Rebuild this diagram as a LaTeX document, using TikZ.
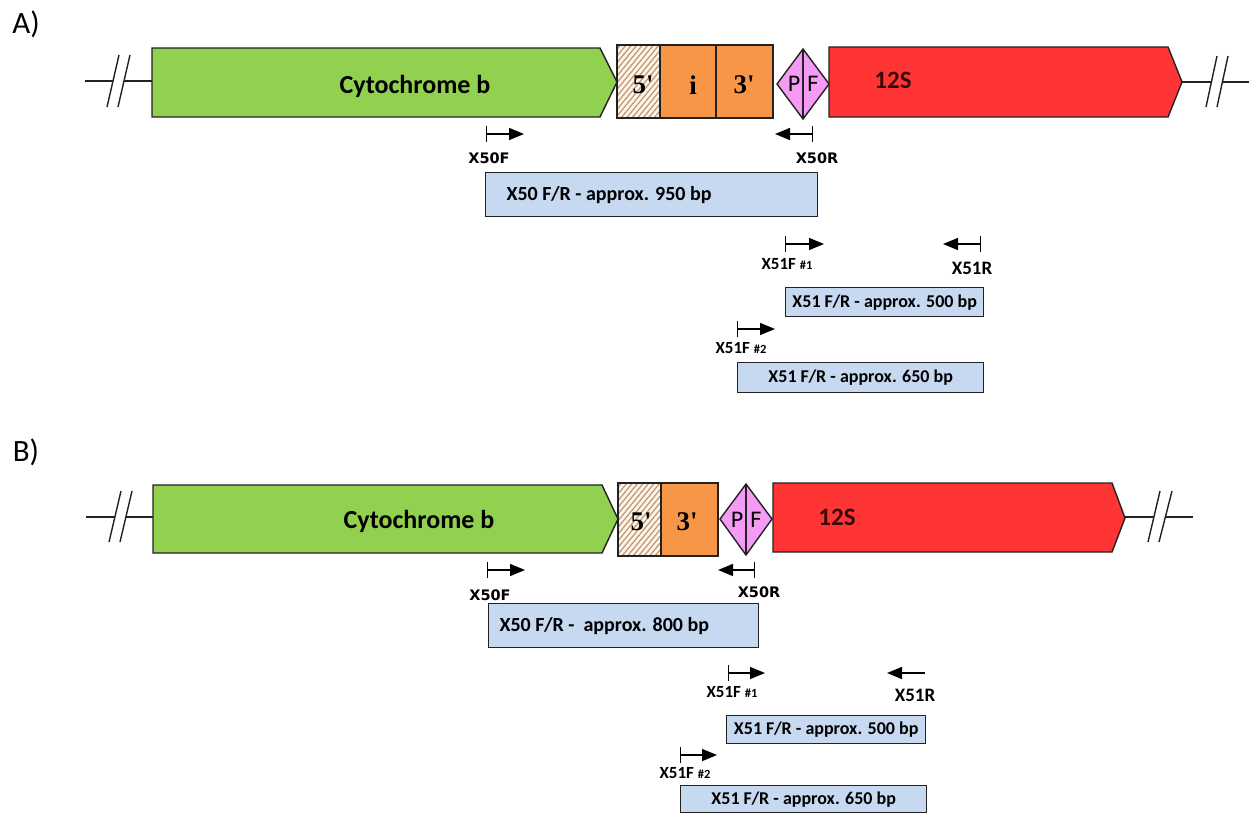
\documentclass[tikz,border=0pt]{standalone}
\usepackage{fontspec}
\setmainfont{Carlito}
\newfontfamily\primerfont{DejaVu Sans}
\newfontfamily\exonfont{Liberation Serif}
\usetikzlibrary{arrows.meta}

\definecolor{genegreen}{HTML}{92D050}
\definecolor{exonorange}{HTML}{F79646}
\definecolor{genered}{HTML}{FF3535}
\definecolor{trnapink}{HTML}{F59BF5}
\definecolor{ampblue}{HTML}{C6D9F1}
\definecolor{hatchtan}{HTML}{C49A72}
\definecolor{hatchbg}{HTML}{FCF6EE}
\definecolor{outline}{HTML}{222222}
\definecolor{rrntext}{HTML}{3A0808}

\tikzset{
  gene/.style={draw=outline, line width=1.4pt, line join=miter},
  strand/.style={line width=1.4pt, draw=outline},
  primer/.style={line width=1.5pt, draw=black,
    {Bar[width=16pt,line width=1.4pt]}-{Triangle[length=15pt,width=12pt]}},
  primerplain/.style={line width=1.5pt, draw=black,
    -{Triangle[length=15pt,width=12pt]}},
  ampbox/.style={draw=outline, fill=ampblue, line width=1.4pt,
    inner sep=0pt, anchor=north west},
  panellbl/.style={font=\fontsize{31}{33}\selectfont},
  genelbl/.style={font=\fontsize{26}{28}\selectfont\bfseries},
  rrnlbl/.style={font=\fontsize{25}{27}\selectfont\bfseries, text=rrntext},
  exonlbl/.style={font=\exonfont\fontsize{27}{29}\selectfont\bfseries},
  trnalbl/.style={font=\primerfont\fontsize{21}{23}\selectfont},
  oldprimer/.style={font=\primerfont\bfseries\fontsize{14.5}{16}\selectfont},
  newprimer/.style={font=\fontsize{17}{19}\selectfont\bfseries},
  revprimer/.style={font=\fontsize{19}{21}\selectfont\bfseries},
  bigamp/.style={font=\fontsize{20}{22}\selectfont\bfseries, anchor=west},
  smallamp/.style={font=\fontsize{18}{20}\selectfont\bfseries},
  hatch/.style={hatchtan, line width=1.3pt},
}
\newcommand{\primerno}[1]{{\fontsize{12.5}{14}\selectfont\##1}}

\begin{document}
\begin{tikzpicture}[x=1pt,y=-1pt]
\useasboundingbox[fill=white] (0,0) rectangle (1249,814);

% ================= Panel A =================
\node[panellbl] (labA) at (26,24) {A)};

% strand with break marks
\coordinate (sAl) at (85,81);
\coordinate (sAlb) at (113,81);
\coordinate (sAlc) at (124,81);
\coordinate (sAr) at (1182,82);
\coordinate (sArb) at (1211,82);
\coordinate (sArc) at (1222,82);
\coordinate (sAre) at (1249,82);
\draw[strand] (sAl) -- (sAlb);
\draw[strand] (sAlc) -- (152,81);
\draw[strand] (107,107) -- (119,55);
\draw[strand] (118,107) -- (130,55);
\draw[strand] (sAr) -- (sArb);
\draw[strand] (sArc) -- (sAre);
\draw[strand] (1206,107) -- (1217,56);
\draw[strand] (1217,107) -- (1228,56);

% cytochrome b
\draw[gene, fill=genegreen] (152,48) -- (600,48) -- (617,82) -- (600,117) -- (152,117) -- cycle;
\node[genelbl] (cytA) at (415,86) {Cytochrome b};

% 5' hatched part
\fill[hatchbg] (617,45) rectangle (660,118);
\begin{scope}
  \clip (617,45) rectangle (660,118);
  \foreach \k in {0,...,24}
    \draw[hatch] (555+\k*5.5,118) -- ++(60,-73);
\end{scope}
\draw[gene] (617,45) rectangle (660,118);
\node[exonlbl] (fiveA) at (643,85) {5'};

% i and 3'
\draw[gene, fill=exonorange] (660,45) rectangle (716,118);
\node[exonlbl] (intA) at (693,85) {i};
\draw[gene, fill=exonorange] (716,45) rectangle (773,118);
\node[exonlbl] (threeA) at (744,85) {3'};

% tRNA diamond
\draw[gene, fill=trnapink] (777,84) -- (803,49) -- (829,84) -- (803,119) -- cycle;
\draw[gene] (803,49) -- (803,119);
\node[trnalbl] (pA) at (794,84) {P};
\node[trnalbl] (fA) at (813,84) {F};

% 12S
\draw[gene, fill=genered] (829,47) -- (1168,47) -- (1182,82) -- (1168,117) -- (829,117) -- cycle;
\node[rrnlbl] (rrnA) at (893,80) {12S};

% primers
\coordinate (x50fA) at (486,134);  \coordinate (x50fAt) at (524,134);
\draw[primer] (x50fA) -- (x50fAt);
\node[oldprimer] (lx50fA) at (489,158) {X50F};
\coordinate (x50rA) at (813,134);  \coordinate (x50rAt) at (775,134);
\draw[primer] (x50rA) -- (x50rAt);
\node[oldprimer] (lx50rA) at (817,158) {X50R};

\node[ampbox, minimum width=332pt, minimum height=44pt] (ampA1) at (485,172) {};
\node[bigamp] (tampA1) at ([xshift=18pt,yshift=-0.5pt]ampA1.west) {X50 F/R - approx. 950 bp};

\coordinate (x51f1A) at (785,244);  \coordinate (x51f1At) at (824,244);
\draw[primer] (x51f1A) -- (x51f1At);
\node[newprimer] (lx51f1A) at (787,264) {X51F \primerno{1}};
\coordinate (x51rA) at (981,244);  \coordinate (x51rAt) at (943,244);
\draw[primer] (x51rA) -- (x51rAt);
\node[revprimer] (lx51rA) at (972,268) {X51R};

\node[ampbox, minimum width=198pt, minimum height=29pt] (ampA2) at (785,287) {};
\node[smallamp] (tampA2) at (ampA2.center) {X51 F/R - approx. 500 bp};

\coordinate (x51f2A) at (737,329);  \coordinate (x51f2At) at (775,329);
\draw[primer] (x51f2A) -- (x51f2At);
\node[newprimer] (lx51f2A) at (741,348) {X51F \primerno{2}};

\node[ampbox, minimum width=246pt, minimum height=30pt] (ampA3) at (737,362) {};
\node[smallamp] (tampA3) at (ampA3.center) {X51 F/R - approx. 650 bp};

% ================= Panel B =================
\node[panellbl] (labB) at (26,452) {B)};

\coordinate (sBl) at (86,517);
\coordinate (sBlb) at (115,517);
\coordinate (sBlc) at (126,517);
\coordinate (sBr) at (1125,517);
\coordinate (sBrb) at (1154,517);
\coordinate (sBrc) at (1165,517);
\coordinate (sBre) at (1193,517);
\draw[strand] (sBl) -- (sBlb);
\draw[strand] (sBlc) -- (153,517);
\draw[strand] (109,542) -- (121,491);
\draw[strand] (120,542) -- (132,491);
\draw[strand] (sBr) -- (sBrb);
\draw[strand] (sBrc) -- (sBre);
\draw[strand] (1148,542) -- (1160,491);
\draw[strand] (1159,542) -- (1172,491);

\draw[gene, fill=genegreen] (153,485) -- (602,485) -- (618,519) -- (602,553) -- (153,553) -- cycle;
\node[genelbl] (cytB) at (419,521) {Cytochrome b};

\fill[hatchbg] (618,483) rectangle (661,556);
\begin{scope}
  \clip (618,483) rectangle (661,556);
  \foreach \k in {0,...,24}
    \draw[hatch] (556+\k*5.5,556) -- ++(60,-73);
\end{scope}
\draw[gene] (618,483) rectangle (661,556);
\node[exonlbl] (fiveB) at (641,522) {5'};

\draw[gene, fill=exonorange] (661,483) rectangle (718,556);
\node[exonlbl] (threeB) at (687,522) {3'};

\draw[gene, fill=trnapink] (720,519) -- (746,484) -- (772,519) -- (746,555) -- cycle;
\draw[gene] (746,484) -- (746,555);
\node[trnalbl] (pB) at (737,520) {P};
\node[trnalbl] (fB) at (756,520) {F};

\draw[gene, fill=genered] (773,483) -- (1112,483) -- (1125,518) -- (1112,552) -- (773,552) -- cycle;
\node[rrnlbl] (rrnB) at (837,517) {12S};

\coordinate (x50fB) at (487,570);  \coordinate (x50fBt) at (525,570);
\draw[primer] (x50fB) -- (x50fBt);
\node[oldprimer] (lx50fB) at (490,595) {X50F};
\coordinate (x50rB) at (755,570);  \coordinate (x50rBt) at (718,570);
\draw[primer] (x50rB) -- (x50rBt);
\node[oldprimer] (lx50rB) at (759,592) {X50R};

\node[ampbox, minimum width=270pt, minimum height=44pt] (ampB1) at (488,603) {};
\node[bigamp] (tampB1) at ([xshift=8pt,yshift=-0.5pt]ampB1.west) {X50 F/R -\ \ approx. 800 bp};

\coordinate (x51f1B) at (728,673);  \coordinate (x51f1Bt) at (765,673);
\draw[primer] (x51f1B) -- (x51f1Bt);
\node[newprimer] (lx51f1B) at (732,692) {X51F \primerno{1}};
\coordinate (x51rB) at (925,673);  \coordinate (x51rBt) at (887,673);
\draw[primerplain] (x51rB) -- (x51rBt);
\node[revprimer] (lx51rB) at (915,695) {X51R};

\node[ampbox, minimum width=199pt, minimum height=28pt] (ampB2) at (726,715) {};
\node[smallamp] (tampB2) at (ampB2.center) {X51 F/R - approx. 500 bp};

\coordinate (x51f2B) at (680,755);  \coordinate (x51f2Bt) at (717,755);
\draw[primer] (x51f2B) -- (x51f2Bt);
\node[newprimer] (lx51f2B) at (685,773) {X51F \primerno{2}};

\node[ampbox, minimum width=246pt, minimum height=27pt] (ampB3) at (680,785) {};
\node[smallamp] (tampB3) at (ampB3.center) {X51 F/R - approx. 650 bp};

\end{tikzpicture}
\end{document}
